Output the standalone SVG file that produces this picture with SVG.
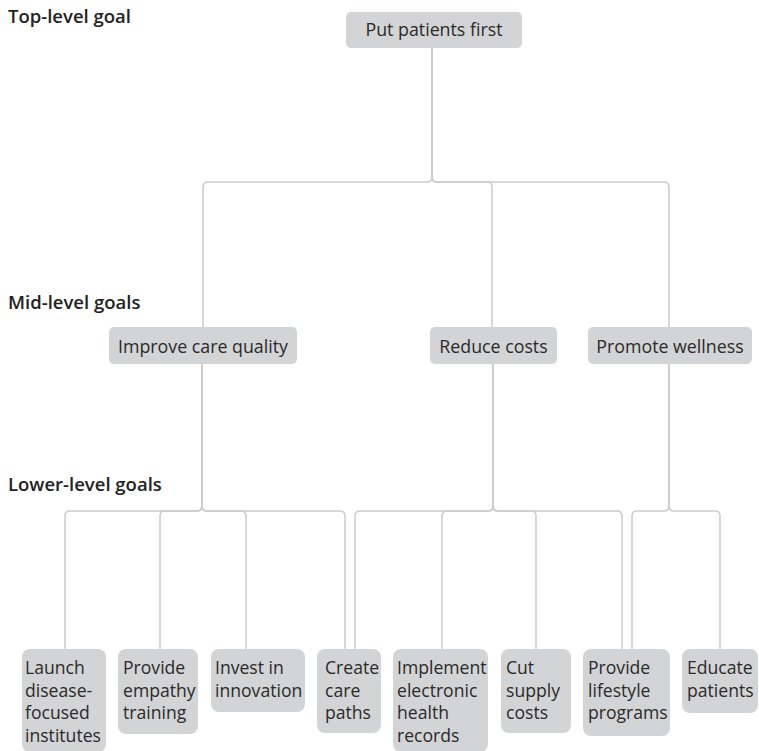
<svg xmlns="http://www.w3.org/2000/svg" width="759" height="751" viewBox="0 0 759 751">
<style>
.bg{fill:#ffffff}
.box{fill:#d3d4d6}
.hd{font-family:"Open Sans","Liberation Sans",sans-serif;font-weight:600;font-size:18.5px;fill:#222222}
.t{font-family:"Open Sans","Liberation Sans",sans-serif;font-size:17.8px;fill:#2a2a2a;text-anchor:middle}
.lt{font-family:"Open Sans","Liberation Sans",sans-serif;font-size:17.6px;fill:#2a2a2a}
.c{fill:none;stroke:#cbcbcb;stroke-width:1.5}
</style>
<rect class="bg" x="0" y="0" width="759" height="751"/>
<g id="headings">
<text class="hd" x="8" y="23">Top-level goal</text>
<text class="hd" x="8" y="309">Mid-level goals</text>
<text class="hd" x="8" y="491">Lower-level goals</text>
</g>
<g id="connectors">
<path class="c" d="M432 48 V177 Q432 182 427 182 H208 Q203 182 203 187 V327"/>
<path class="c" d="M432 48 V177 Q432 182 437 182 H487 Q492 182 492 187 V327"/>
<path class="c" d="M432 48 V177 Q432 182 437 182 H664 Q669 182 669 187 V327"/>
<path class="c" d="M202 364 V506 Q202 511 197 511 H70 Q65 511 65 516 V649"/>
<path class="c" d="M202 364 V506 Q202 511 197 511 H165 Q160 511 160 516 V649"/>
<path class="c" d="M202 364 V506 Q202 511 207 511 H241 Q246 511 246 516 V649"/>
<path class="c" d="M202 364 V506 Q202 511 207 511 H340 Q345 511 345 516 V649"/>
<path class="c" d="M493 364 V506 Q493 511 488 511 H360 Q355 511 355 516 V649"/>
<path class="c" d="M493 364 V506 Q493 511 488 511 H447 Q442 511 442 516 V649"/>
<path class="c" d="M493 364 V506 Q493 511 498 511 H531 Q536 511 536 516 V649"/>
<path class="c" d="M493 364 V506 Q493 511 498 511 H617 Q622 511 622 516 V649"/>
<path class="c" d="M669 364 V506 Q669 511 664 511 H637 Q632 511 632 516 V649"/>
<path class="c" d="M669 364 V506 Q669 511 674 511 H715 Q720 511 720 516 V649"/>
</g>
<g id="n-top">
<rect class="box" x="346" y="12" width="176" height="36" rx="5"/>
<text class="t" x="434" y="36">Put patients first</text>
</g>
<g id="n-improve">
<rect class="box" x="109" y="327" width="188" height="37" rx="5"/>
<text class="t" x="203" y="353">Improve care quality</text>
</g>
<g id="n-reduce">
<rect class="box" x="430" y="327" width="127" height="37" rx="5"/>
<text class="t" x="493.5" y="353">Reduce costs</text>
</g>
<g id="n-promote">
<rect class="box" x="588" y="327" width="164" height="37" rx="5"/>
<text class="t" x="670" y="353">Promote wellness</text>
</g>
<g id="n-launch">
<rect class="box" x="22" y="649" width="84" height="103" rx="8"/>
<text class="lt" x="25" y="674">Launch</text>
<text class="lt" x="25" y="696.5">disease-</text>
<text class="lt" x="25" y="719">focused</text>
<text class="lt" x="25" y="741.5">institutes</text>
</g>
<g id="n-empathy">
<rect class="box" x="118" y="649" width="80" height="85" rx="8"/>
<text class="lt" x="123" y="674">Provide</text>
<text class="lt" x="123" y="696.5">empathy</text>
<text class="lt" x="123" y="719">training</text>
</g>
<g id="n-invest">
<rect class="box" x="211" y="649" width="94" height="63" rx="8"/>
<text class="lt" x="215" y="674">Invest in</text>
<text class="lt" x="215" y="696.5">innovation</text>
</g>
<g id="n-create">
<rect class="box" x="317" y="649" width="64" height="84" rx="8"/>
<text class="lt" x="325" y="674">Create</text>
<text class="lt" x="325" y="696.5">care</text>
<text class="lt" x="325" y="719">paths</text>
</g>
<g id="n-implement">
<rect class="box" x="393" y="649" width="95" height="103" rx="8"/>
<text class="lt" x="397" y="674">Implement</text>
<text class="lt" x="397" y="696.5">electronic</text>
<text class="lt" x="397" y="719">health</text>
<text class="lt" x="397" y="741.5">records</text>
</g>
<g id="n-cut">
<rect class="box" x="501" y="649" width="70" height="84" rx="8"/>
<text class="lt" x="506" y="674">Cut</text>
<text class="lt" x="506" y="696.5">supply</text>
<text class="lt" x="506" y="719">costs</text>
</g>
<g id="n-lifestyle">
<rect class="box" x="583" y="649" width="87" height="87" rx="8"/>
<text class="lt" x="588" y="674">Provide</text>
<text class="lt" x="588" y="696.5">lifestyle</text>
<text class="lt" x="588" y="719">programs</text>
</g>
<g id="n-educate">
<rect class="box" x="682" y="649" width="76" height="64" rx="8"/>
<text class="lt" x="687" y="674">Educate</text>
<text class="lt" x="687" y="696.5">patients</text>
</g>
</svg>
